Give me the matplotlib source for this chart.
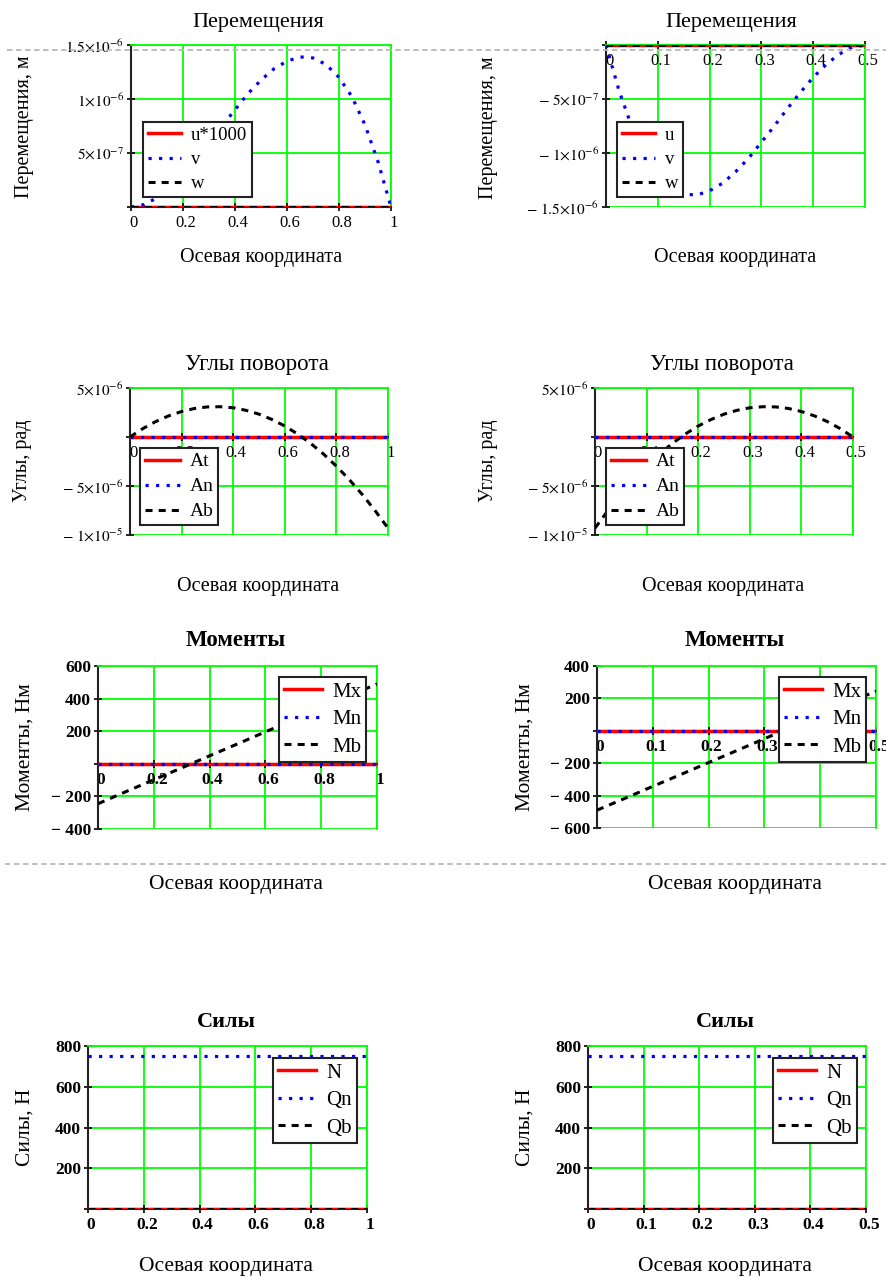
import matplotlib
matplotlib.use('Agg')
import matplotlib.pyplot as plt
from matplotlib.lines import Line2D
from matplotlib.transforms import ScaledTranslation

plt.rcParams['font.family'] = ['Liberation Serif', 'DejaVu Serif']
plt.rcParams['mathtext.fontset'] = 'stix'

# ---------------- data ----------------
x_full = [0, 0.05, 0.1, 0.15, 0.2, 0.25, 0.3, 0.35, 0.4, 0.45, 0.5,
          0.55, 0.6, 0.65, 0.7, 0.75, 0.8, 0.85, 0.9, 0.95, 1.0]
x_half = [0, 0.025, 0.05, 0.075, 0.1, 0.125, 0.15, 0.175, 0.2, 0.225, 0.25,
          0.275, 0.3, 0.325, 0.35, 0.375, 0.4, 0.425, 0.45, 0.475, 0.5]

# Displacements (m)
v_left = [0, 0.022e-6, 0.085e-6, 0.18e-6, 0.30e-6, 0.44e-6, 0.59e-6, 0.75e-6,
          0.90e-6, 1.05e-6, 1.175e-6, 1.28e-6, 1.35e-6, 1.39e-6, 1.38e-6,
          1.32e-6, 1.20e-6, 1.02e-6, 0.76e-6, 0.42e-6, 0]
v_right = [0, -0.42e-6, -0.76e-6, -1.02e-6, -1.20e-6, -1.32e-6, -1.38e-6,
           -1.39e-6, -1.35e-6, -1.28e-6, -1.175e-6, -1.05e-6, -0.90e-6,
           -0.75e-6, -0.59e-6, -0.44e-6, -0.30e-6, -0.18e-6, -0.085e-6,
           -0.022e-6, 0]
zero21 = [0.0] * 21

# Rotation angles (rad)
Ab_left = [0, 0.86e-6, 1.58e-6, 2.16e-6, 2.60e-6, 2.91e-6, 3.07e-6, 3.09e-6,
           2.98e-6, 2.72e-6, 2.33e-6, 1.79e-6, 1.12e-6, 0.30e-6, -0.65e-6,
           -1.74e-6, -2.98e-6, -4.35e-6, -5.86e-6, -7.51e-6, -9.3e-6]
Ab_right = [-9.3e-6, -7.51e-6, -5.86e-6, -4.35e-6, -2.98e-6, -1.74e-6,
            -0.65e-6, 0.30e-6, 1.12e-6, 1.79e-6, 2.33e-6, 2.72e-6, 2.98e-6,
            3.09e-6, 3.07e-6, 2.91e-6, 2.60e-6, 2.16e-6, 1.58e-6, 0.86e-6, 0]

# Moments (N*m)
xm_full = [0, 0.1, 0.2, 0.3, 0.4, 0.5, 0.6, 0.7, 0.8, 0.9, 1.0]
xm_half = [0, 0.05, 0.1, 0.15, 0.2, 0.25, 0.3, 0.35, 0.4, 0.45, 0.5]
Mb_left = [-245, -171, -98, -25, 49, 122, 196, 269, 343, 416, 490]
Mb_right = [-490, -417, -343, -270, -196, -123, -49, 25, 98, 172, 245]
zero11 = [0.0] * 11

# Forces (N)
xf_full = [0, 1.0]
xf_half = [0, 0.5]
Qn_vals = [750, 750]
zero2 = [0.0, 0.0]

xt_full = [0, 0.2, 0.4, 0.6, 0.8, 1.0]
xtl_full = ['0', '0.2', '0.4', '0.6', '0.8', '1']
xt_half = [0, 0.1, 0.2, 0.3, 0.4, 0.5]
xtl_half = ['0', '0.1', '0.2', '0.3', '0.4', '0.5']

yt_disp_l = [0, 5e-7, 1e-6, 1.5e-6]
ytl_disp_l = ['', r'$5{\times}10^{-7}$', r'$1{\times}10^{-6}$', r'$1.5{\times}10^{-6}$']
yt_disp_r = [-1.5e-6, -1e-6, -5e-7, 0]
ytl_disp_r = [r'$-\ 1.5{\times}10^{-6}$', r'$-\ 1{\times}10^{-6}$', r'$-\ 5{\times}10^{-7}$', '']
yt_ang = [-1e-5, -5e-6, 0, 5e-6]
ytl_ang = [r'$-\ 1{\times}10^{-5}$', r'$-\ 5{\times}10^{-6}$', '', r'$5{\times}10^{-6}$']
yt_mom_l = [-400, -200, 0, 200, 400, 600]
ytl_mom_l = ['\u2212 400', '\u2212 200', '', '200', '400', '600']
yt_mom_r = [-600, -400, -200, 0, 200, 400]
ytl_mom_r = ['\u2212 600', '\u2212 400', '\u2212 200', '', '200', '400']
yt_frc = [0, 200, 400, 600, 800]
ytl_frc = ['', '200', '400', '600', '800']

# ---------------- figure ----------------
W, H = 886, 1277
fig = plt.figure(figsize=(W / 100, H / 100), dpi=100)

GREEN = '#00ff00'
RED_KW = dict(color='#ff0000', lw=2.5, ls='-')
BLUE_KW = dict(color='#0000ff', lw=2.3, ls=(0, (1, 2.3)))
BLACK_KW = dict(color='#000000', lw=2.2, ls=(0, (2.3, 2.0)))


def ftext(x, y, s, **kw):
    fig.text(x / W, 1 - y / H, s, ha='center', va='center', **kw)


def panel(rect, xs, ys, labels, xlim, ylim, xt, xtl, yt, ytl,
          leg_xy, leg_fs, title, tpos, title_fs, bold,
          xlab_pos, xlab_fs, ylab, ylab_pos, ylab_fs, tick_fs):
    l, t, r, b = rect
    ax = fig.add_axes([l / W, 1 - b / H, (r - l) / W, (b - t) / H])
    kws = [RED_KW, BLUE_KW, BLACK_KW]
    handles = []
    for x, y, kw, lab in zip(xs, ys, kws, labels):
        h, = ax.plot(x, y, label=lab, zorder=3, **kw)
        handles.append(h)
    ax.set_xlim(*xlim)
    ax.set_ylim(*ylim)
    # spines first (moving a spine resets the ticks)
    for s in ('top', 'right'):
        ax.spines[s].set_color(GREEN)
        ax.spines[s].set_linewidth(1.3)
    ax.spines['left'].set_color('#222222')
    ax.spines['left'].set_linewidth(1.5)
    ax.spines['bottom'].set_color('#222222')
    ax.spines['bottom'].set_linewidth(1.5)
    ax.spines['bottom'].set_position(('data', 0))
    ax.spines['bottom'].set_zorder(2.5)
    ax.tick_params(axis='both', direction='inout', length=6, width=1.2,
                   colors='black', top=False, right=False)
    ax.tick_params(axis='x', pad=3)
    ax.tick_params(axis='y', pad=2)
    wt = 'bold' if bold else 'normal'
    ax.set_xticks(xt)
    ax.set_xticklabels(xtl, fontsize=tick_fs, fontweight=wt)
    ax.set_yticks(yt)
    ax.set_yticklabels(ytl, fontsize=(tick_fs if bold else 11), fontweight=wt)
    off = ScaledTranslation(3 / 100, 0, fig.dpi_scale_trans)
    for lab in ax.get_xticklabels():
        lab.set_transform(lab.get_transform() + off)
    ax.grid(True, color=GREEN, lw=1.3, zorder=1)
    ax.set_axisbelow(True)
    lx, ly = leg_xy
    leg = ax.legend(handles=handles, loc='upper left',
                    bbox_to_anchor=(lx / W, 1 - ly / H),
                    bbox_transform=fig.transFigure, borderaxespad=0,
                    fontsize=leg_fs, frameon=True, fancybox=False,
                    framealpha=1, edgecolor='#222222', handlelength=1.8,
                    handletextpad=0.5, labelspacing=0.38, borderpad=0.25)
    leg.get_frame().set_linewidth(1.5)
    leg.set_zorder(5)
    ftext(tpos[0], tpos[1], title, fontsize=title_fs, fontweight=wt)
    ftext(xlab_pos[0], xlab_pos[1], 'Осевая координата', fontsize=xlab_fs)
    ftext(ylab_pos[0], ylab_pos[1], ylab, fontsize=ylab_fs, rotation=90)
    return ax


# Row 1: displacements
panel((131, 45, 391, 207), [x_full, x_full, x_full], [zero21, v_left, zero21],
      ['u*1000', 'v', 'w'], (0, 1), (0, 1.5e-6), xt_full, xtl_full,
      yt_disp_l, ytl_disp_l, (143, 122), 13.5, 'Перемещения', (258, 23), 16, False,
      (261, 258), 14.5, 'Перемещения, м', (25, 127), 14.5, 12)
panel((606, 45, 865, 207), [x_half, x_half, x_half], [zero21, v_right, zero21],
      ['u', 'v', 'w'], (0, 0.5), (-1.5e-6, 0), xt_half, xtl_half,
      yt_disp_r, ytl_disp_r, (617, 122), 13.5, 'Перемещения', (731, 23), 16, False,
      (735, 258), 14.5, 'Перемещения, м', (488, 128), 14.5, 12)

# Row 2: rotation angles
panel((130, 388, 388, 535), [x_full, x_full, x_full], [zero21, zero21, Ab_left],
      ['At', 'An', 'Ab'], (0, 1), (-1e-5, 5e-6), xt_full, xtl_full,
      yt_ang, ytl_ang, (140, 448), 14, 'Углы поворота', (257, 365), 16.5, False,
      (258, 587), 14.5, 'Углы, рад', (23, 461), 14.5, 12)
panel((595, 388, 853, 535), [x_half, x_half, x_half], [zero21, zero21, Ab_right],
      ['At', 'An', 'Ab'], (0, 0.5), (-1e-5, 5e-6), xt_half, xtl_half,
      yt_ang, ytl_ang, (606, 448), 14, 'Углы поворота', (722, 365), 16.5, False,
      (723, 587), 14.5, 'Углы, рад', (488, 461), 14.5, 12)

# Row 3: moments
panel((98, 666, 377, 829), [xm_full, xm_full, xm_full], [zero11, zero11, Mb_left],
      ['Mx', 'Mn', 'Mb'], (0, 1), (-400, 600), xt_full, xtl_full,
      yt_mom_l, ytl_mom_l, (279, 677), 15, 'Моменты', (236, 640), 16.5, True,
      (236, 885), 15.5, 'Моменты, Нм', (25, 747), 15.5, 12.5)
panel((597, 666, 876, 828), [xm_half, xm_half, xm_half], [zero11, zero11, Mb_right],
      ['Mx', 'Mn', 'Mb'], (0, 0.5), (-600, 400), xt_half, xtl_half,
      yt_mom_r, ytl_mom_r, (779, 677), 15, 'Моменты', (735, 640), 16.5, True,
      (735, 885), 15.5, 'Моменты, Нм', (525, 747), 15.5, 12.5)

# Row 4: forces
panel((88, 1046, 367, 1209), [xf_full, xf_full, xf_full], [zero2, Qn_vals, zero2],
      ['N', 'Qn', 'Qb'], (0, 1), (0, 800), xt_full, xtl_full,
      yt_frc, ytl_frc, (273, 1058), 15, 'Силы', (226, 1022), 16, True,
      (226, 1267), 15.5, 'Силы, Н', (25, 1127), 15.5, 12.5)
panel((588, 1046, 866, 1209), [xf_half, xf_half, xf_half], [zero2, Qn_vals, zero2],
      ['N', 'Qn', 'Qb'], (0, 0.5), (0, 800), xt_half, xtl_half,
      yt_frc, ytl_frc, (773, 1058), 15, 'Силы', (725, 1022), 16, True,
      (725, 1267), 15.5, 'Силы, Н', (525, 1127), 15.5, 12.5)

# page-break dashed lines
for yy, x0 in ((50, 7), (864, 5)):
    fig.add_artist(Line2D([x0 / W, 1], [1 - yy / H, 1 - yy / H],
                          transform=fig.transFigure, color='#b8b8b8',
                          lw=1.3, ls=(0, (3, 2)), zorder=10))

fig.savefig('out.png', dpi=100)
